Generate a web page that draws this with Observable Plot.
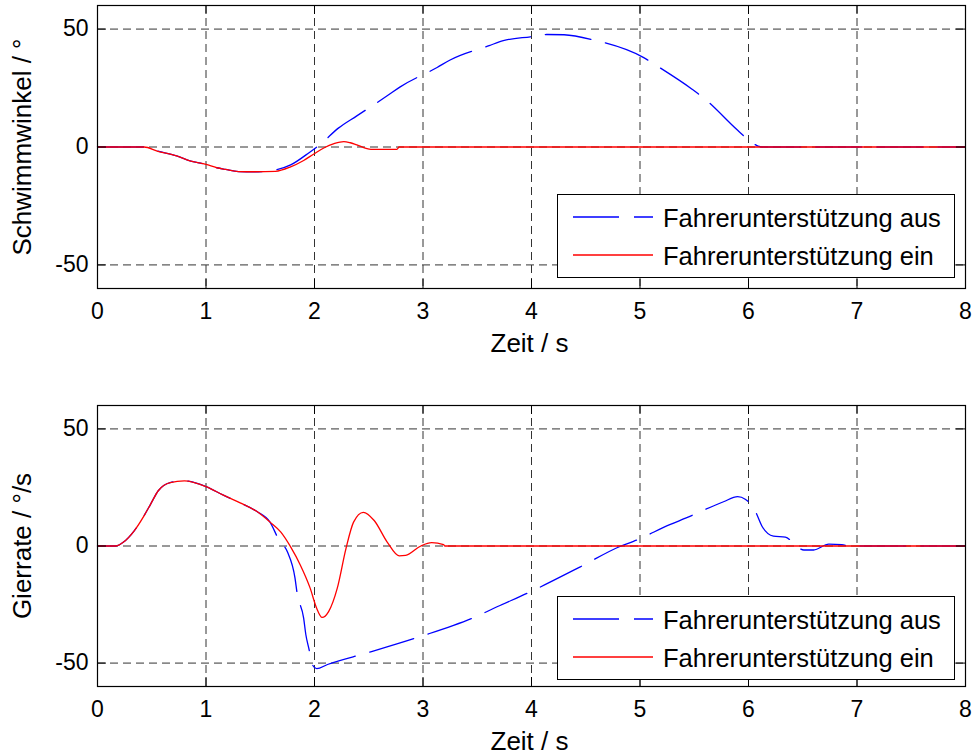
<!DOCTYPE html>
<html>
<head>
<meta charset="utf-8">
<script src="https://cdn.jsdelivr.net/npm/d3@7"></script>
<script src="https://cdn.jsdelivr.net/npm/@observablehq/plot@0.6"></script>
<style>
  html, body { margin: 0; padding: 0; background: #fff; }
  #wrap { position: relative; width: 975px; height: 756px; background: #fff; }
  #wrap svg.plot { display: block; }
  .legend { position: absolute; box-sizing: border-box; border: 1px solid #000; background: #fff; }
</style>
</head>
<body>
<div id="wrap"></div>
<script>
// ---------- data ----------
const seriesNames = ["Fahrerunterstützung aus", "Fahrerunterstützung ein"];
const xLabel = "Zeit / s";
const yLabels = ["Schwimmwinkel / °", "Gierrate / °/s"];
const xTicks = [0, 1, 2, 3, 4, 5, 6, 7, 8];
const yTicks = [-50, 0, 50];

// Schwimmwinkel, Fahrerunterstützung aus
const betaAusT = [0, 0.43, 0.55, 0.73, 0.86, 1.0, 1.1, 1.18, 1.3, 1.45, 1.62, 1.78, 1.95, 2.07, 2.22, 2.39, 2.67, 2.79, 3.13, 3.25, 3.61, 3.74, 4.0, 4.14, 4.3, 4.57, 5.03, 5.17, 5.48, 5.6, 5.9, 6.02, 6.11, 6.15, 8];
const betaAusV = [0, 0, -1.7, -3.8, -6, -7.4, -8.8, -9.5, -10.4, -10.5, -9.9, -7.6, -2.4, 1.8, 8.0, 13.2, 21.7, 25.5, 33.7, 36.9, 43.0, 45.1, 46.8, 47.7, 47.6, 45.4, 38.0, 34.0, 24.5, 20.3, 7.1, 2.3, 0.1, 0, 0];
// Schwimmwinkel, Fahrerunterstützung ein
const betaEinT = [0, 0.43, 0.55, 0.73, 0.86, 1.0, 1.1, 1.18, 1.3, 1.45, 1.64, 1.78, 1.9, 1.99, 2.09, 2.18, 2.27, 2.33, 2.39, 2.52, 2.76, 2.78, 8];
const betaEinV = [0, 0, -1.7, -3.8, -6, -7.4, -8.8, -9.5, -10.4, -10.5, -10.3, -8.4, -5.7, -3.1, -0.3, 1.4, 2.3, 1.8, 0.9, -1.0, -1.0, 0, 0];

// Gierrate, Fahrerunterstützung aus
const yawAusT = [0, 0.17, 0.24, 0.34, 0.43, 0.49, 0.56, 0.67, 0.8, 1.0, 1.16, 1.32, 1.47, 1.59, 1.67, 1.75, 1.82, 1.84, 1.9, 1.92, 1.95, 1.98, 2.02, 2.12, 2.49, 2.98, 3.47, 3.71, 3.96, 4.45, 4.82, 4.94, 5.28, 5.42, 5.77, 5.9, 5.97, 6.06, 6.13, 6.23, 6.34, 6.46, 6.51, 6.6, 6.74, 6.86, 6.97, 7.0, 8];
const yawAusV = [0, 0, 1.7, 6.6, 13, 17.9, 23.6, 27.1, 27.8, 25.4, 21.7, 18.3, 14.7, 10.2, 2.8, -2.5, -13.6, -20.2, -30.8, -37.8, -44.2, -50.6, -52.4, -50.6, -45.6, -38.6, -30.5, -25.4, -20.2, -8.9, -0.1, 2.0, 9.2, 11.9, 18.9, 21.1, 20.0, 15.1, 8.0, 4.2, 3.8, -0.8, -1.7, -1.7, 0.8, 0.6, -0.7, 0, 0];
// Gierrate, Fahrerunterstützung ein
const yawEinT = [0, 0.17, 0.24, 0.34, 0.43, 0.49, 0.56, 0.67, 0.8, 1.0, 1.16, 1.32, 1.47, 1.59, 1.69, 1.78, 1.87, 1.96, 2.02, 2.07, 2.13, 2.21, 2.29, 2.36, 2.45, 2.55, 2.67, 2.78, 2.84, 2.98, 3.08, 3.19, 3.2, 8];
const yawEinV = [0, 0, 1.7, 6.6, 13, 17.9, 23.6, 27.1, 27.8, 25.4, 21.7, 18.3, 14.7, 10.2, 5.9, -0.4, -8.2, -18, -26.6, -30.5, -28, -18, -1.1, 10.2, 14.4, 10.9, 1.7, -4.2, -4.0, 0, 1.4, 0.6, 0, 0];

// ---------- helpers ----------
const toRows = (T, V) => T.map((t, i) => ({t, v: V[i]}));
const colors = ["#0000ff", "#ff0000"];
const dashes = ["46,15", null];
const W = 975, ML = 97, MR = 10, TICK = 9, LW = 1.3;
const FONT = "'Liberation Sans', Arial, Helvetica, sans-serif";

function panel({height, marginTop, marginBottom, yLabel, aus, ein, xLabelDy}) {
  const innerH = height - marginTop - marginBottom;
  const innerW = W - ML - MR;
  return Plot.plot({
    width: W, height, marginLeft: ML, marginRight: MR, marginTop, marginBottom,
    style: {fontFamily: FONT, fontSize: "23px", background: "#fff", color: "#000", overflow: "visible"},
    x: {domain: [0, 8]},
    y: {domain: [-60, 60]},
    marks: [
      Plot.ruleX(xTicks, {x: d => d, stroke: "#333", strokeWidth: 1, strokeDasharray: "8,5"}),
      Plot.ruleY(yTicks, {y: d => d, stroke: "#333", strokeWidth: 1, strokeDasharray: "8,5"}),
      Plot.line(aus, {x: "t", y: "v", stroke: colors[0], strokeWidth: LW, strokeDasharray: dashes[0], curve: "monotone-x"}),
      Plot.line(ein, {x: "t", y: "v", stroke: colors[1], strokeWidth: LW, curve: "monotone-x"}),
      Plot.tickX(xTicks, {x: d => d, insetTop: innerH - TICK, stroke: "#000"}),
      Plot.tickX(xTicks, {x: d => d, insetBottom: innerH - TICK, stroke: "#000"}),
      Plot.tickY(yTicks, {y: d => d, insetRight: innerW - TICK, stroke: "#000"}),
      Plot.tickY(yTicks, {y: d => d, insetLeft: innerW - TICK, stroke: "#000"}),
      Plot.frame({stroke: "#000", strokeWidth: 1.2}),
      Plot.axisX({ticks: xTicks, tickSize: 0, tickPadding: 14, tickFormat: d => String(d), label: null}),
      Plot.axisY({ticks: yTicks, tickSize: 0, tickPadding: 9, tickFormat: d => String(d), label: null}),
      Plot.text([xLabel], {text: d => d, frameAnchor: "bottom", dy: xLabelDy, dx: -2, lineAnchor: "middle", textAnchor: "middle", fontSize: 26}),
      Plot.text([yLabel], {text: d => d, frameAnchor: "left", rotate: -90, dx: -75, lineAnchor: "middle", textAnchor: "middle", fontSize: 26})
    ]
  });
}

function legend(top) {
  const div = document.createElement("div");
  div.className = "legend";
  div.style.left = "557px";
  div.style.top = top + "px";
  div.style.width = "398px";
  div.style.height = "84px";
  const rows = seriesNames.map((name, i) => {
    const ly = 22 + i * 38;
    const dash = dashes[i] ? ` stroke-dasharray="${dashes[i]}"` : "";
    return `<line x1="15" x2="95" y1="${ly}" y2="${ly}" stroke="${colors[i]}" stroke-width="${LW}"${dash}/>` +
           `<text x="105" y="${ly + 9.5}" font-size="25.5" fill="#000" font-family="${FONT.replace(/"/g, "")}">${name}</text>`;
  }).join("");
  div.innerHTML = `<svg width="396" height="82" style="display:block">${rows}</svg>`;
  return div;
}

const wrap = document.getElementById("wrap");
const p1 = panel({height: 380, marginTop: 5, marginBottom: 92, yLabel: yLabels[0], xLabelDy: 55.5,
  aus: toRows(betaAusT, betaAusV), ein: toRows(betaEinT, betaEinV)});
p1.classList.add("plot");
const p2 = panel({height: 376, marginTop: 25, marginBottom: 70, yLabel: yLabels[1], xLabelDy: 55.5,
  aus: toRows(yawAusT, yawAusV), ein: toRows(yawEinT, yawEinV)});
p2.classList.add("plot");
wrap.appendChild(p1);
wrap.appendChild(p2);
wrap.appendChild(legend(194));
wrap.appendChild(legend(596));
</script>
</body>
</html>
